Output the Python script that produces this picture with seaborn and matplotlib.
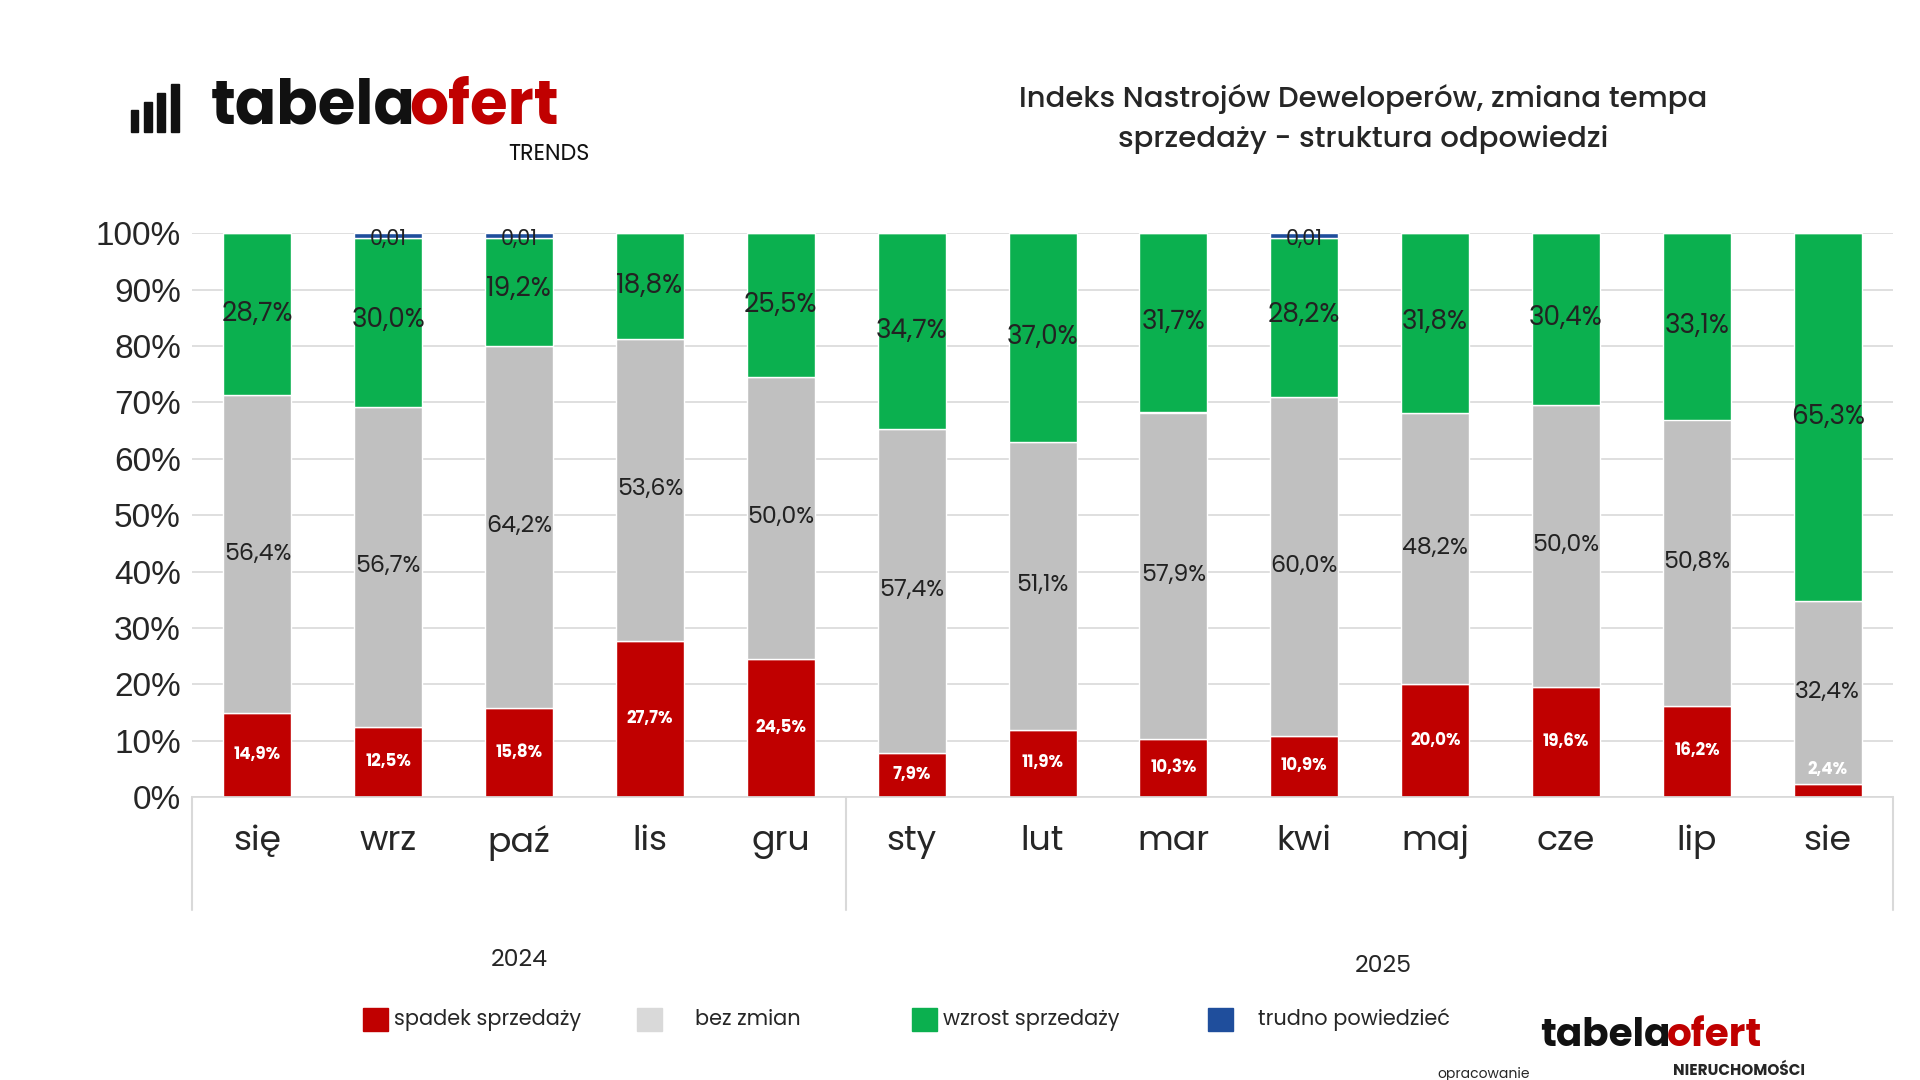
import numpy as np
import pandas as pd
import matplotlib.pyplot as plt
import seaborn as sns

sns.set_theme(style="white")
plt.rcParams['font.family'] = ['Poppins', 'Open Sans', 'DejaVu Sans']

months = ['się', 'wrz', 'paź', 'lis', 'gru', 'sty', 'lut', 'mar', 'kwi', 'maj', 'cze', 'lip', 'sie']
spadek = [14.9, 12.5, 15.8, 27.7, 24.5, 7.9, 11.9, 10.3, 10.9, 20.0, 19.6, 16.2, 2.4]
bez_zmian = [56.4, 56.7, 64.2, 53.6, 50.0, 57.4, 51.1, 57.9, 60.0, 48.2, 50.0, 50.8, 32.4]
wzrost = [28.7, 30.0, 19.2, 18.8, 25.5, 34.7, 37.0, 31.7, 28.2, 31.8, 30.4, 33.1, 65.3]
trudno = [0, 0.8, 0.8, 0, 0, 0, 0, 0, 0.9, 0, 0, 0, 0]
years = ['2024', '2025']

RED, GREY, GREEN, BLUE = '#c00000', '#c0c0c0', '#0bb04f', '#1f4e9c'

df = pd.DataFrame({'m': months, 's': spadek, 'b': bez_zmian, 'w': wzrost, 't': trudno})
b1 = df['s'].values
b2 = b1 + df['b'].values
b3 = 100 - df['w'].values - df['t'].values

fig = plt.figure(figsize=(19.2, 10.8), dpi=100)
ax = fig.add_axes([0.1, 0.262, 0.886, 0.522])

sns.barplot(data=df, x='m', y='s', color=RED, width=0.52, ax=ax, saturation=1)
sns.barplot(data=df, x='m', y='b', bottom=b1, color=GREY, width=0.52, ax=ax, saturation=1)
sns.barplot(data=df, x='m', y='w', bottom=b3, color=GREEN, width=0.52, ax=ax, saturation=1)
sns.barplot(data=df, x='m', y='t', bottom=100 - df['t'].values, color=BLUE, width=0.52, ax=ax, saturation=1)

fmt = lambda v: f"{v:.1f}%".replace('.', ',')
for i in range(len(months)):
    ypos = spadek[i] / 2 if spadek[i] > 5 else spadek[i] + 2.4
    ax.text(i, ypos, fmt(spadek[i]), ha='center', va='center', color='white', fontsize=12, fontweight='bold')
    ax.text(i, (b1[i] + b2[i]) / 2, fmt(bez_zmian[i]), ha='center', va='center', color='#222222', fontsize=17)
    ax.text(i, (b3[i] + 100) / 2, fmt(wzrost[i]), ha='center', va='center', color='#222222', fontsize=19)
    if trudno[i] > 0:
        ax.text(i, 98.8, '0,01', ha='center', va='center', color='#222222', fontsize=15)

ax.set_ylim(0, 100)
ax.set_xlim(-0.5, 12.5)
ax.set_yticks(np.arange(0, 101, 10))
ax.set_yticklabels([f"{v}%" for v in range(0, 101, 10)], fontsize=24, family=['Liberation Sans', 'DejaVu Sans'])
ax.yaxis.grid(True, color='#d9d9d9', linewidth=1.2)
ax.set_axisbelow(True)
ax.set_xlabel('')
ax.set_ylabel('')
ax.tick_params(axis='x', labelsize=25, pad=20, length=0)
ax.tick_params(axis='y', length=0, pad=8)
for s in ['top', 'right', 'left']:
    ax.spines[s].set_visible(False)
ax.spines['bottom'].set_color('#d9d9d9')

# category separators
for xv in [-0.5, 4.5, 12.5]:
    ax.plot([xv, xv], [0, -20], color='#d9d9d9', lw=1.5, clip_on=False)
ax.text(2, -29, years[0], ha='center', va='center', fontsize=17)
ax.text(8.6, -30, years[1], ha='center', va='center', fontsize=17)

# titles / logos
fig.text(0.71, 0.89, 'Indeks Nastrojów Deweloperów, zmiana tempa\nsprzedaży - struktura odpowiedzi',
         ha='center', va='center', fontsize=21, linespacing=1.5, fontweight='medium')
fig.text(0.11, 0.9, 'tabela', fontsize=44, fontweight='bold', color='#111111', va='center')
fig.text(0.213, 0.9, 'ofert', fontsize=44, fontweight='bold', color='#c00000', va='center')
fig.text(0.307, 0.857, 'TRENDS', fontsize=16, color='#111111', ha='right', va='center')
for k, h in enumerate([0.02, 0.028, 0.036, 0.044]):
    fig.patches.append(plt.Rectangle((0.068 + k * 0.007, 0.878), 0.004, h, transform=fig.transFigure, color='#111111'))

fig.text(0.802, 0.04, 'tabela', fontsize=28, fontweight='bold', color='#111111', va='center')
fig.text(0.868, 0.04, 'ofert', fontsize=28, fontweight='bold', color='#c00000', va='center')
fig.text(0.94, 0.008, 'NIERUCHOMOŚCI', fontsize=11, ha='right', va='center', fontweight='bold')
fig.text(0.797, -0.002, 'opracowanie', fontsize=10, ha='right', va='bottom')

# legend
items = [('spadek sprzedaży', RED, 0.189), ('bez zmian', '#d9d9d9', 0.332),
         ('wzrost sprzedaży', GREEN, 0.475), ('trudno powiedzieć', BLUE, 0.629)]
for lab, col, xp in items:
    fig.patches.append(plt.Rectangle((xp, 0.045), 0.013, 0.022, transform=fig.transFigure, color=col))
    fig.text(xp + (0.016 if col != BLUE else 0.026) + (0.014 if lab == 'bez zmian' else 0), 0.056, lab,
             fontsize=15, va='center')

fig.savefig('out.png', dpi=100)
